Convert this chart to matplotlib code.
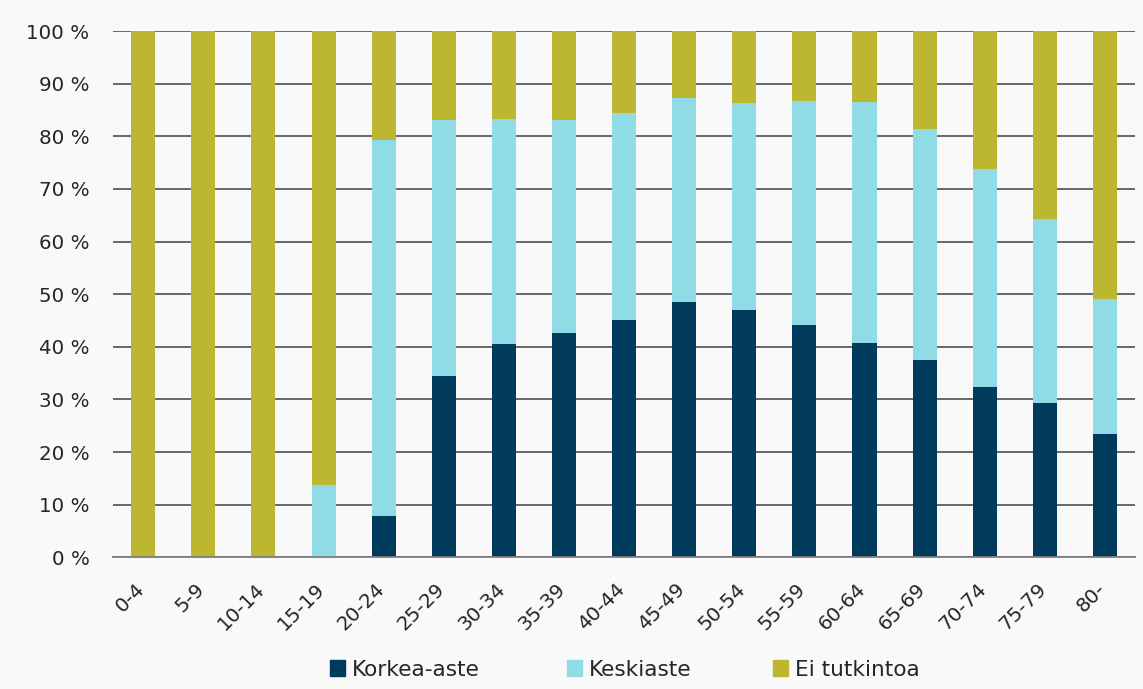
import matplotlib
matplotlib.use("Agg")
import matplotlib.pyplot as plt
import matplotlib.transforms as mtransforms
from matplotlib.patches import Patch
import numpy as np

categories = ["0-4", "5-9", "10-14", "15-19", "20-24", "25-29", "30-34", "35-39",
              "40-44", "45-49", "50-54", "55-59", "60-64", "65-69", "70-74", "75-79", "80-"]
korkea = [0, 0, 0, 0, 7.9, 34.4, 40.5, 42.6, 45.1, 48.5, 47.0, 44.2, 40.7, 37.5, 32.4, 29.3, 23.5]
keski_top = [0, 0, 0, 13.8, 79.2, 83.1, 83.3, 83.0, 84.5, 87.2, 86.4, 86.7, 86.5, 81.4, 73.8, 64.3, 49.0]
series_names = ["Korkea-aste", "Keskiaste", "Ei tutkintoa"]
yticks = [0, 10, 20, 30, 40, 50, 60, 70, 80, 90, 100]
ytick_labels = [f"{v} %" for v in yticks]

korkea = np.array(korkea)
keski = np.array(keski_top) - korkea
ei = 100 - np.array(keski_top)

colors = ["#003a5d", "#8fdce7", "#bdb631"]
bg = "#f9f9f9"
txt = "#262626"

plt.rcParams['font.family'] = ['DejaVu Sans']

fig = plt.figure(figsize=(11.43, 6.89), dpi=100, facecolor=bg)
ax = fig.add_axes([0.099, 0.191, 0.894, 0.764])
ax.set_facecolor(bg)

x = np.arange(len(categories))
w = 0.4
ax.bar(x, korkea, w, color=colors[0], zorder=3)
ax.bar(x, keski, w, bottom=korkea, color=colors[1], zorder=3)
ax.bar(x, ei, w, bottom=korkea + keski, color=colors[2], zorder=3)

ax.set_xlim(-0.5, len(categories) - 0.5)
ax.set_ylim(0, 100)
ax.set_yticks(yticks)
ax.set_yticklabels(ytick_labels, fontsize=14.3, color=txt)
ax.yaxis.grid(True, color="#404040", linewidth=1.1, zorder=0)
ax.set_axisbelow(True)
for s in ["top", "right", "left"]:
    ax.spines[s].set_visible(False)
ax.spines["bottom"].set_color("#7f7f7f")
ax.spines["bottom"].set_linewidth(1.3)
ax.spines["bottom"].set_zorder(4)
ax.tick_params(axis="y", length=0, pad=17)
ax.tick_params(axis="x", length=0, pad=16)
ax.set_xticks(x)
ax.set_xticklabels(categories, rotation=45, ha="right", va="top",
                   fontsize=14.3, color=txt)
offset = mtransforms.ScaledTranslation(5 / 100, 0, fig.dpi_scale_trans)
for lab in ax.get_xticklabels():
    lab.set_transform(lab.get_transform() + offset)

positions = [330, 567, 773]
for name, col, px in zip(series_names, colors, positions):
    fig.legend(handles=[Patch(facecolor=col, edgecolor=col)], labels=[name],
               loc="center left", bbox_to_anchor=(px / 1143, 1 - 669.5 / 689),
               frameon=False, fontsize=15.6, handlelength=0.7, handleheight=0.7,
               handletextpad=0.3, borderaxespad=0, borderpad=0, labelcolor=txt)

fig.savefig("out.png", dpi=100, facecolor=bg)
